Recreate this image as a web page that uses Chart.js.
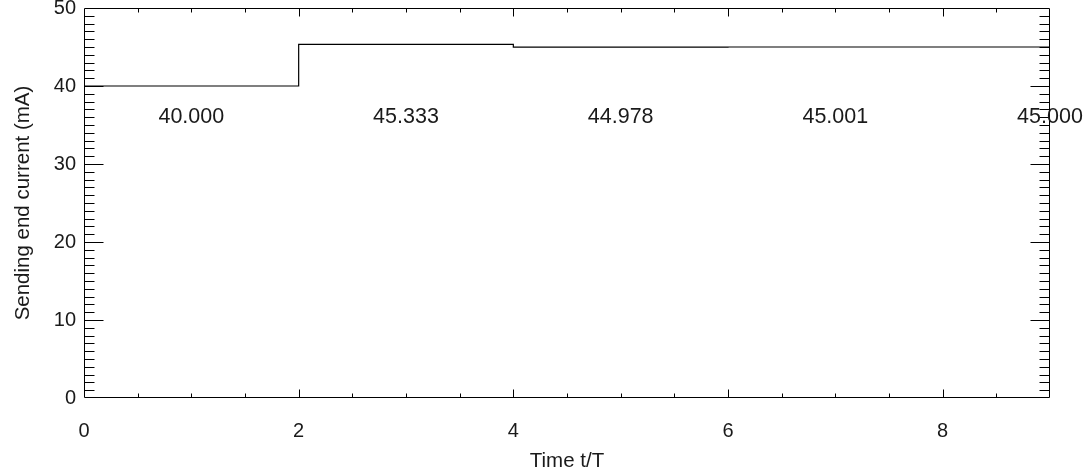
<!DOCTYPE html>
<html>
<head>
<meta charset="utf-8">
<script src="https://cdn.jsdelivr.net/npm/chart.js@4/dist/chart.umd.min.js"></script>
<style>
html,body{margin:0;padding:0;background:#fff;}
#wrap{width:1088px;height:474px;position:relative;}
</style>
</head>
<body>
<div id="wrap"><canvas id="c" width="1088" height="474"></canvas></div>
<script>
// ---- data ----
const times = [0, 2, 4, 6, 9];
const currents = [40.0, 45.333, 44.978, 45.001, 45.001];
const labelTimes = [1, 3, 5, 7, 9];
const labelTexts = ['40.000', '45.333', '44.978', '45.001', '45.000'];
const labelLevel = 36;
const xTickValues = [0, 2, 4, 6, 8];
const yTickValues = [0, 10, 20, 30, 40, 50];

const FONT = "'Liberation Sans', Arial, Helvetica, sans-serif";
const TXT = '#1a1a1a';

const framePlugin = {
  id: 'frame',
  beforeDatasetsDraw(chart) {
    const ctx = chart.ctx, a = chart.chartArea;
    const xs = chart.scales.x, ys = chart.scales.y;
    const L = Math.round(a.left) + 0.5, R = Math.round(a.right) - 0.5;
    const T = Math.round(a.top) + 0.5, B = Math.round(a.bottom) - 0.5;
    ctx.save();
    ctx.strokeStyle = '#000';
    ctx.lineWidth = 1;
    ctx.beginPath();
    ctx.rect(L, T, R - L, B - T);
    for (let v = 0.5; v < xs.max; v += 0.5) {
      const px = Math.round(xs.getPixelForValue(v)) + 0.5;
      const len = (v % 2 === 0) ? 8 : 4;
      ctx.moveTo(px, B); ctx.lineTo(px, B - len);
      ctx.moveTo(px, T); ctx.lineTo(px, T + len);
    }
    for (let v = 1; v < ys.max; v += 1) {
      const py = Math.round(ys.getPixelForValue(v)) + 0.5;
      const len = (v % 10 === 0) ? 19 : 10;
      ctx.moveTo(L, py); ctx.lineTo(L + len, py);
      ctx.moveTo(R, py); ctx.lineTo(R - len, py);
    }
    ctx.stroke();
    ctx.restore();
  },
  afterDatasetsDraw(chart) {
    const ctx = chart.ctx;
    const xs = chart.scales.x, ys = chart.scales.y;
    ctx.save();
    ctx.fillStyle = TXT;
    ctx.font = '21.5px ' + FONT;
    ctx.textAlign = 'center';
    ctx.textBaseline = 'middle';
    labelTimes.forEach((t, i) => {
      ctx.fillText(labelTexts[i], xs.getPixelForValue(t), ys.getPixelForValue(labelLevel));
    });
    ctx.restore();
  }
};

new Chart(document.getElementById('c'), {
  type: 'line',
  data: {
    datasets: [{
      data: times.map((t, i) => ({x: t, y: currents[i]})),
      borderColor: '#000',
      borderWidth: 1.2,
      pointRadius: 0,
      stepped: 'before',
      fill: false
    }]
  },
  options: {
    responsive: false,
    animation: false,
    devicePixelRatio: 1,
    layout: {padding: {top: 8, right: 38, left: 0, bottom: 0}},
    plugins: {legend: {display: false}, tooltip: {enabled: false}},
    scales: {
      x: {
        type: 'linear', min: 0, max: 9,
        grid: {display: false, drawTicks: false},
        border: {display: false},
        afterBuildTicks: s => { s.ticks = xTickValues.map(v => ({value: v})); },
        afterFit: s => { s.height = 76; s.paddingLeft = 0; s.paddingRight = 0; },
        ticks: {color: TXT, font: {family: FONT, size: 20}, padding: 21, maxRotation: 0, autoSkip: false},
        title: {display: true, text: 'Time t/T', color: TXT, font: {family: FONT, size: 20.5}, padding: {top: 0, bottom: 0}}
      },
      y: {
        type: 'linear', min: 0, max: 50,
        grid: {display: false, drawTicks: false},
        border: {display: false},
        afterBuildTicks: s => { s.ticks = yTickValues.map(v => ({value: v})); },
        afterFit: s => { s.width = 84; s.paddingTop = 0; s.paddingBottom = 0; },
        ticks: {color: TXT, font: {family: FONT, size: 20}, padding: 8, autoSkip: false},
        title: {display: true, text: 'Sending end current (mA)', color: TXT, font: {family: FONT, size: 20.5}, padding: {top: 11, bottom: 0}}
      }
    }
  },
  plugins: [framePlugin]
});
</script>
</body>
</html>
